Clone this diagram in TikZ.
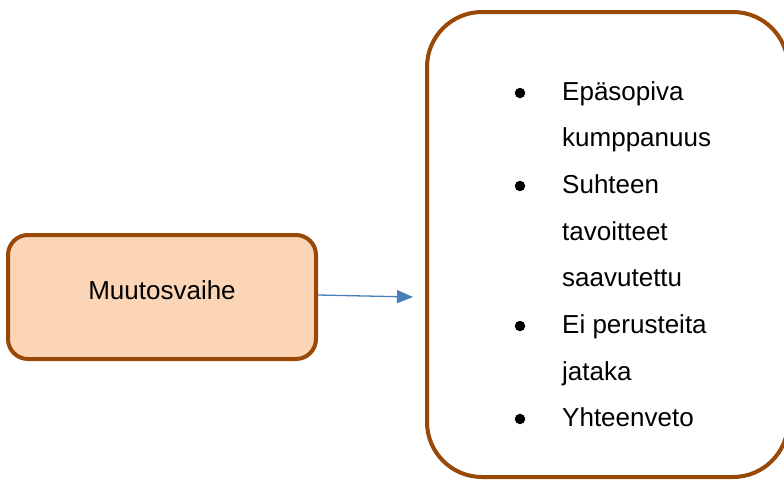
\documentclass[tikz,border=0pt]{standalone}
\usepackage{fontspec}
\setmainfont{Liberation Sans}
\usetikzlibrary{arrows.meta}
\definecolor{brownline}{HTML}{984807}
\definecolor{peach}{HTML}{FBD5B5}
\definecolor{arrowblue}{HTML}{4A7EBB}
\tikzset{
  box/.style={draw=brownline, line width=4pt, rounded corners=#1, inner sep=0pt},
  txt/.style={anchor=base west, inner sep=0pt, font=\fontsize{26}{30}\selectfont},
  bul/.style={circle, fill=black, inner sep=0pt, minimum size=10.5pt},
  conn/.style={draw=arrowblue, line width=1.3pt, -{Triangle[length=16pt,width=13pt]}}
}
\begin{document}
\begin{tikzpicture}[x=1pt,y=-1pt]
\useasboundingbox (0,0) rectangle (784,480);
\fill[white] (0,0) rectangle (784,480);
% left box
\node[box=20pt, fill=peach, minimum width=308pt, minimum height=124pt] (lbox) at (162,297) {};
\node[anchor=base, inner sep=0pt, font=\fontsize{26}{30}\selectfont] (ltxt) at (162,299.5) {Muutosvaihe};
% right box (extends past the right edge)
\begin{scope}
\clip (0,0) rectangle (784,480);
\node[box=55pt, minimum width=361pt, minimum height=465pt] (rbox) at (607.5,244.5) {};
\end{scope}
% arrow
\coordinate (tip) at (413,297);
\draw[conn] ([yshift=2pt]lbox.east) -- (tip);
% list
\node[bul] (b1) at (520,93) {};
\node[bul] (b2) at (520,186) {};
\node[bul] (b3) at (520,326) {};
\node[bul] (b4) at (520,419) {};
\node[txt] (t1) at (562,100) {Epäsopiva};
\node[txt] (t2) at (562,146.6) {kumppanuus};
\node[txt] (t3) at (562,193.3) {Suhteen};
\node[txt] (t4) at (562,240) {tavoitteet};
\node[txt] (t5) at (562,286.6) {saavutettu};
\node[txt] (t6) at (562,333.3) {Ei perusteita};
\node[txt] (t7) at (562,380) {jataka};
\node[txt] (t8) at (562,426.6) {Yhteenveto};
\end{tikzpicture}
\end{document}
